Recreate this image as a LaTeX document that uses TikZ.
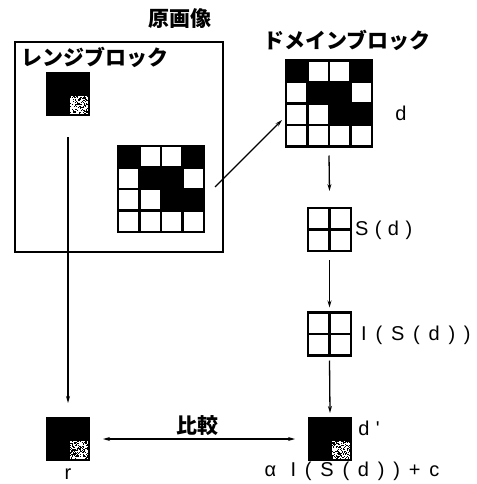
\documentclass[tikz,border=0pt]{standalone}
\usepackage{fontspec}
\setmainfont{Noto Sans CJK JP}
\newfontfamily\latf[LetterSpace=32]{Liberation Sans}
\newfontfamily\latfw[LetterSpace=44]{Liberation Sans}
\usetikzlibrary{arrows.meta}
\tikzset{
  blk/.style={inner sep=0pt, outer sep=0pt, minimum size=#1, draw=none},
  jp/.style={font=\fontsize{21}{21}\selectfont\bfseries, inner sep=0pt},
  lat/.style={font=\latf\fontsize{20}{20}\selectfont, inner sep=0pt},
  latw/.style={font=\latfw\fontsize{20}{20}\selectfont, inner sep=0pt},
  conn/.style={line width=1.3pt, -{Stealth[length=7pt,width=4pt]}},
  conn2/.style={line width=1.3pt, {Stealth[length=7pt,width=4pt]}-{Stealth[length=7pt,width=4pt]}},
}
% 4x4 domain block pattern drawn in the node named #1
\newcommand{\domgrid}[1]{%
  \begin{scope}[shift={(#1.north west)}]
    \foreach \cx/\cy in {0/0,3/0,1/1,2/1,2/2,3/2}
      \fill[black] (\cx*21.5,\cy*21.5) rectangle ++(21.5,21.5);
    \draw[line width=2.6pt, step=21.5pt] (0,0) grid (86,86);
    \draw[line width=2.8pt] (0,0) rectangle (86,86);
  \end{scope}}
% 2x2 small block
\newcommand{\smallgrid}[1]{%
  \begin{scope}[shift={(#1.north west)}]
    \draw[line width=2.4pt] (0,0) rectangle (43,43);
    \draw[line width=2.2pt] (21.5,0) -- (21.5,43) (0,21.5) -- (43,21.5);
  \end{scope}}
% black block with a noisy texture at lower right
\newcommand{\rngblock}[2]{%
  \fill[black] (#1.north west) rectangle (#1.south east);
  \begin{scope}[shift={(#1.south east)}]
    \fill[white] (-20,-2) rectangle (-2,-20);
    \pgfmathsetseed{#2}
    \foreach \i in {0,...,17}{\foreach \j in {0,...,17}{%
      \pgfmathsetmacro\rv{rnd}%
      \ifdim\rv pt<0.38pt \fill[black] (-20+\i,-20+\j) rectangle ++(1,1);\fi}}
  \end{scope}}
\begin{document}
\begin{tikzpicture}[x=1pt,y=-1pt]
\useasboundingbox (0,0) rectangle (476,484);
\fill[white] (0,0) rectangle (476,484);

% original image frame
\node[blk=0pt, draw, line width=1.5pt, minimum width=208pt, minimum height=210pt] (orig) at (119,147) {};
\node[jp] (origt) at (180,19) {原画像};
\node[jp, anchor=west] (rngt) at (21,57) {レンジブロック};

% range block
\node[blk=44pt] (rng) at (68,94) {};
\rngblock{rng}{3}

% domain block inside image
\node[blk=86pt] (dom1) at (161,189) {};
\domgrid{dom1}

% domain block top right
\node[jp] (domt) at (347,40) {ドメインブロック};
\node[blk=86pt] (dom2) at (329,103.5) {};
\domgrid{dom2}
\node[lat] (dl) at (401,113) {d};

% S(d)
\node[blk=43pt] (sd) at (329.5,229.5) {};
\smallgrid{sd}
\node[lat, anchor=west] (sdl) at (355,230) {S(d)};

% I(S(d))
\node[blk=43pt] (isd) at (329.5,334) {};
\smallgrid{isd}
\node[latw, anchor=west] (isdl) at (361,335) {I(S(d))};

% d'
\node[blk=44pt] (dp) at (330,439) {};
\rngblock{dp}{7}
\node[lat] (dpl) at (369,428) {d'};
\node[latw] (formula) at (352,471) {α I(S(d))+c};

% r
\node[blk=44pt] (r) at (68,439) {};
\rngblock{r}{11}
\node[lat] (rl) at (68,474) {r};

% compare
\node[jp] (cmp) at (197,426) {比較};

% connectors
\draw[conn] ([yshift=-21pt]rng.south) -- ([yshift=14pt]r.north);
\draw[conn] ([xshift=11pt,yshift=2pt]dom1.east) -- ([xshift=-4pt,yshift=-16.5pt]dom2.west);
\draw[conn] ([yshift=-9pt]dom2.south) -- ([yshift=17pt]sd.north);
\draw[conn] ([yshift=-9pt]sd.south) -- ([yshift=5pt]isd.north);
\draw[conn] ([yshift=-5pt]isd.south) -- ([yshift=4pt]dp.north);
\draw[conn2] ([xshift=13pt]r.east) -- ([xshift=-13pt]dp.west);
\end{tikzpicture}
\end{document}
